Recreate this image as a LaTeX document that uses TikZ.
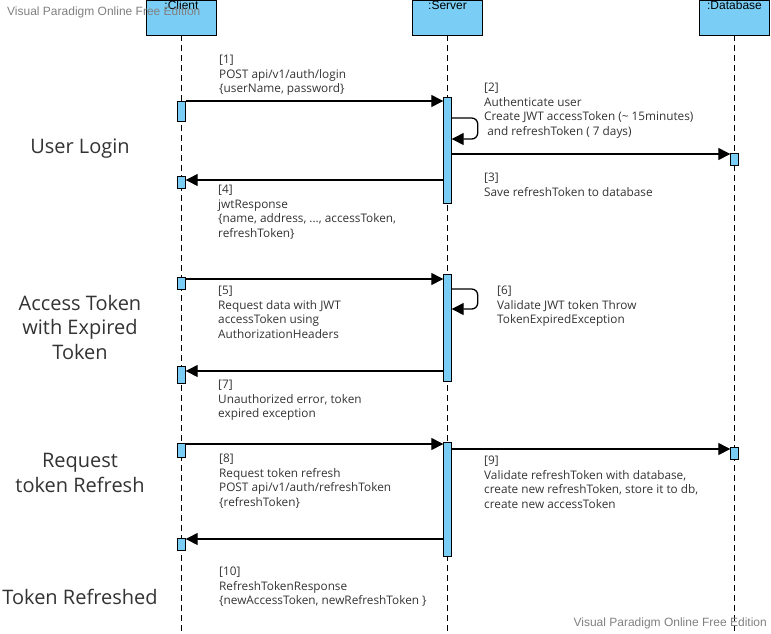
\documentclass[tikz,border=0pt]{standalone}
\usepackage{fontspec}
\setmainfont{Open Sans}
\newfontfamily\headfont{Liberation Sans}
\usetikzlibrary{arrows.meta}
\definecolor{vpblue}{RGB}{122,206,245}
\definecolor{vptext}{RGB}{51,51,51}
\tikzset{
  head/.style={draw, fill=vpblue, minimum width=70, minimum height=35, inner sep=0, anchor=north},
  act/.style={draw, fill=vpblue, minimum width=8, inner sep=0, anchor=north},
  life/.style={dash pattern=on 6pt off 4pt},
  msg/.style={line width=1.3pt, -{Triangle[length=12pt,width=12pt]}},
  txt/.style={anchor=north west, align=left, inner sep=0, text=vptext, font=\fontsize{11.8}{14.5}\selectfont},
  phase/.style={align=center, inner sep=0, text=vptext, font=\fontsize{20}{24.5}\selectfont},
  wmark/.style={inner sep=0, text=black!50, font=\headfont\fontsize{12}{14}\selectfont}
}
\begin{document}
\begin{tikzpicture}[x=1pt, y=-1pt]
    \useasboundingbox (0,0) rectangle (771,633);
    \coordinate (bot) at (0,633);

    % lifelines
    \node[head, label={[anchor=north, inner sep=1, font=\headfont\fontsize{12}{14}\selectfont]north::Client}] (client) at (181.5,0) {};
    \node[head, label={[anchor=north, inner sep=1, font=\headfont\fontsize{12}{14}\selectfont]north::Server}] (server) at (447.5,0) {};
    \node[head, label={[anchor=north, inner sep=1, font=\headfont\fontsize{12}{14}\selectfont]north::Database}] (database) at (734.5,0) {};
    \draw[life] (client.south) -- (client.south |- bot);
    \draw[life] (server.south) -- (server.south |- bot);
    \draw[life] (database.south) -- (database.south |- bot);

    % activations
    \node[act, minimum height=20] (c1) at (181.5,101) {};
    \node[act, minimum height=12] (c2) at (181.5,176) {};
    \node[act, minimum height=12] (c3) at (181.5,277) {};
    \node[act, minimum height=17] (c4) at (181.5,366) {};
    \node[act, minimum height=14] (c5) at (181.5,443) {};
    \node[act, minimum height=12] (c6) at (181.5,538) {};
    \node[act, minimum height=106] (s1) at (447.5,97) {};
    \node[act, minimum height=107] (s2) at (447.5,274) {};
    \node[act, minimum height=114] (s3) at (447.5,442) {};
    \node[act, minimum height=12] (d1) at (734.5,153) {};
    \node[act, minimum height=12] (d2) at (734.5,447) {};

    % messages
    \draw[msg] (c1.north east) -- (c1.north east -| s1.west);
    \draw[msg, rounded corners=6] ([yshift=-21]s1.north east) -- ++(26,0) -- ++(0,21) -- ([yshift=-42]s1.north east);
    \draw[msg] ([yshift=-1]d1.north west -| s1.east) -- ([yshift=-1]d1.north west);
    \draw[msg] ([yshift=-4]c2.north east -| s1.west) -- ([yshift=-4]c2.north east);
    \draw[msg] ([yshift=-2]c3.north east) -- ([yshift=-2]c3.north east -| s2.west);
    \draw[msg, rounded corners=6] ([yshift=-15]s2.north east) -- ++(26,0) -- ++(0,20) -- ([yshift=-35]s2.north east);
    \draw[msg] ([yshift=-5]c4.north east -| s2.west) -- ([yshift=-5]c4.north east);
    \draw[msg] ([yshift=-1]c5.north east) -- ([yshift=-1]c5.north east -| s3.west);
    \draw[msg] ([yshift=-2]d2.north west -| s3.east) -- ([yshift=-2]d2.north west);
    \draw[msg] ([yshift=-1]c6.north east -| s3.west) -- ([yshift=-1]c6.north east);

    % message texts
    \node[txt] (t1) at (219,55) {[1]\\POST api/v1/auth/login\\\{userName, password\}};
    \node[txt] (t2) at (484,83) {[2]\\Authenticate user\\Create JWT accessToken (\textasciitilde{} 15minutes)\\\ and refreshToken ( 7 days)};
    \node[txt] (t3) at (484,173) {[3]\\Save refreshToken to database};
    \node[txt] (t4) at (218,185) {[4]\\jwtResponse\\\{name, address, ..., accessToken,\\refreshToken\}};
    \node[txt] (t5) at (218,286) {[5]\\Request data with JWT\\accessToken using\\AuthorizationHeaders};
    \node[txt] (t6) at (497,286) {[6]\\Validate JWT token Throw\\TokenExpiredException};
    \node[txt] (t7) at (218,380) {[7]\\Unauthorized error, token\\expired exception};
    \node[txt] (t8) at (219,454) {[8]\\Request token refresh\\POST api/v1/auth/refreshToken\\\{refreshToken\}};
    \node[txt] (t9) at (484,456) {[9]\\Validate refreshToken with database,\\create new refreshToken, store it to db,\\create new accessToken};
    \node[txt] (t10) at (219,567) {[10]\\RefreshTokenResponse\\\{newAccessToken, newRefreshToken \}};

    % phases
    \node[phase] (p1) at (80,149) {User Login};
    \node[phase] (p2) at (80,327) {Access Token\\with Expired\\Token};
    \node[phase] (p3) at (80,473) {Request\\token Refresh};
    \node[phase] (p4) at (80,597) {Token Refreshed};

    % watermarks
    \node[wmark, anchor=west] (w1) at (7,12) {Visual Paradigm Online Free Edition};
    \node[wmark, anchor=east] (w2) at (767,623) {Visual Paradigm Online Free Edition};
\end{tikzpicture}
\end{document}
